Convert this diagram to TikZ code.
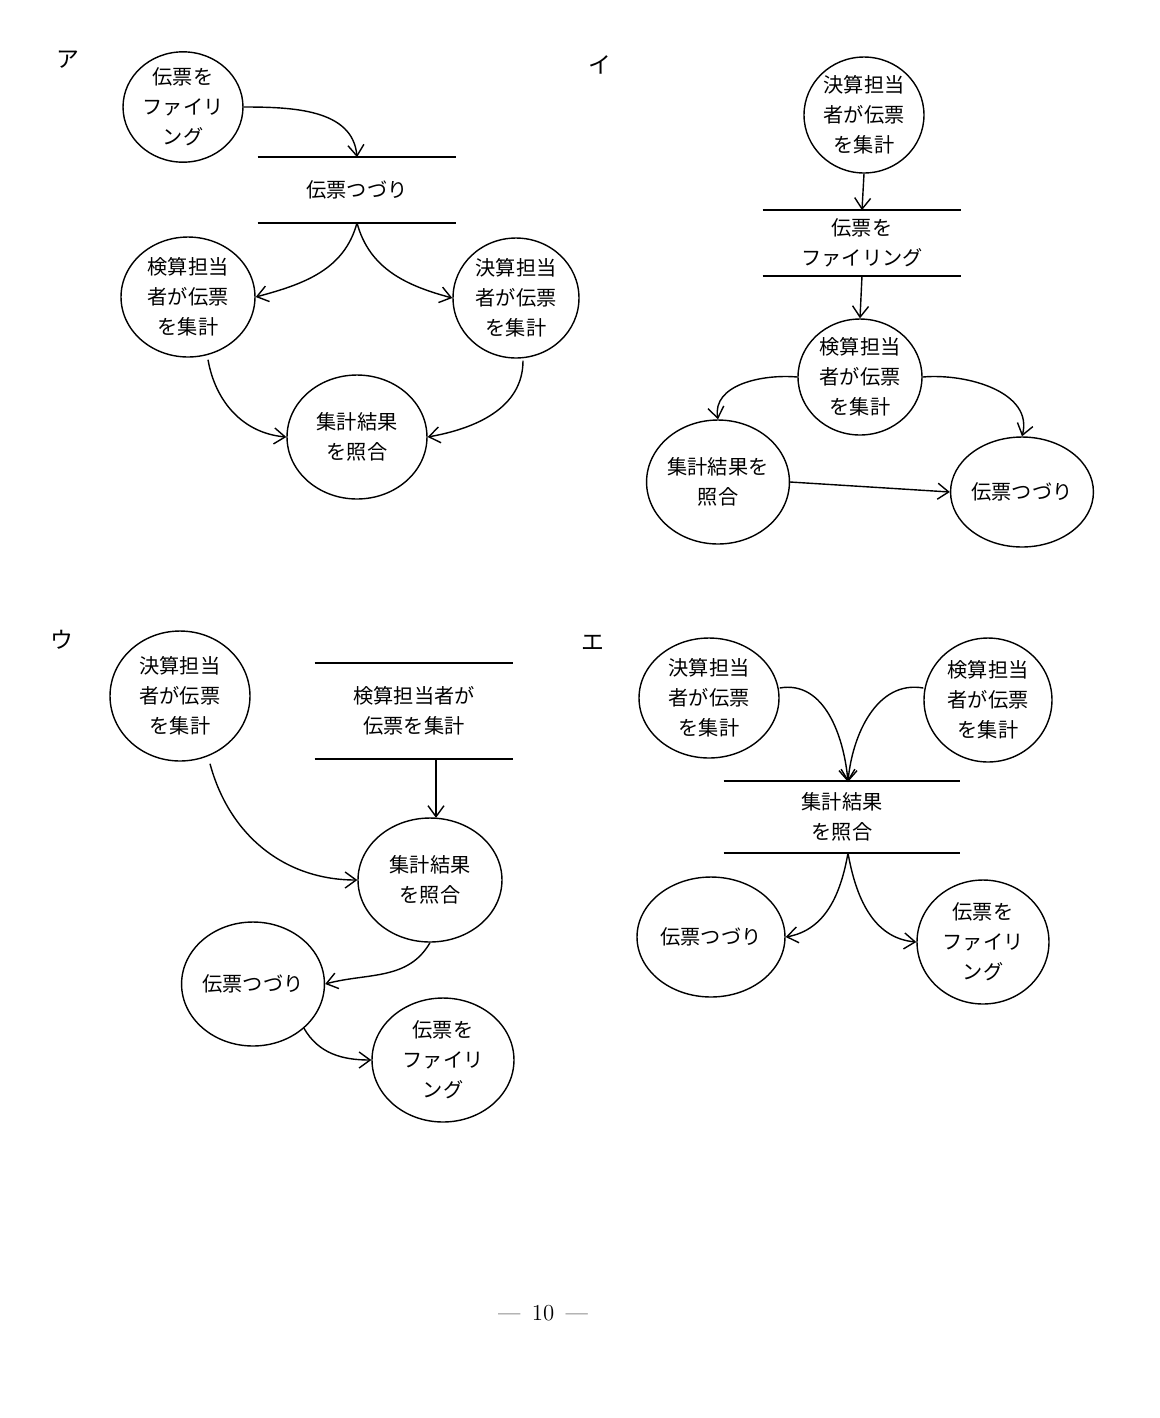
\documentclass[tikz,border=0pt]{standalone}
\usepackage{fontspec}
\newfontfamily\jpfont{Noto Sans CJK JP}
\usetikzlibrary{shapes.geometric, arrows.meta, positioning}
\tikzstyle{proc} = [ellipse, draw=black, thick, inner sep=0pt, align=center, font=\jpfont\fontsize{11.5pt}{17pt}\selectfont]
\tikzstyle{store} = [rectangle, inner sep=0pt, minimum width=3.96cm, align=center, font=\jpfont\fontsize{11.5pt}{17pt}\selectfont,
  append after command={(\tikzlastnode.north west) edge[thick] (\tikzlastnode.north east)
                        (\tikzlastnode.south west) edge[thick] (\tikzlastnode.south east)}]
\tikzstyle{arrow} = [thick,-{Straight Barb[length=2.2mm,width=3.2mm]}]
\tikzstyle{label} = [font=\jpfont\fontsize{13pt}{15pt}\selectfont]
\begin{document}
\begin{tikzpicture}[x=0.02cm, y=-0.02cm]
    \useasboundingbox (0,0) rectangle (1160,1418);
    % ア
    \node[label] (la) at (68,60) {ア};
    \node[proc, minimum width=2.4cm, minimum height=2.08cm] (afile) at (183,107) {伝票を\\ファイリ\\ング};
    \node[store, minimum height=1.3cm] (astore) at (357,190) {伝票つづり};
    \node[proc, minimum width=2.68cm, minimum height=2.4cm] (akensan) at (188,297) {検算担当\\者が伝票\\を集計};
    \node[proc, minimum width=2.52cm, minimum height=2.4cm] (akessan) at (516,298) {決算担当\\者が伝票\\を集計};
    \node[proc, minimum width=2.8cm, minimum height=2.48cm] (ashogo) at (357,437) {集計結果\\を照合};
    \draw[arrow] (afile.east) to[out=0,in=95] (astore.north);
    \draw[arrow] (astore.south) to[out=-105,in=15] (akensan.east);
    \draw[arrow] (astore.south) to[out=-75,in=165] (akessan.west);
    \draw[arrow] (akensan.south) ++(20,2) to[out=-80,in=175] (ashogo.west);
    \draw[arrow] (akessan.south) ++(7,2) to[out=-90,in=10] (ashogo.east);

    % イ
    \node[label] (li) at (600,65) {イ};
    \node[proc, minimum width=2.4cm, minimum height=2.32cm] (ikessan) at (864,115) {決算担当\\者が伝票\\を集計};
    \node[store, minimum height=1.3cm] (istore) at (862,243) {伝票を\\ファイリング};
    \node[proc, minimum width=2.48cm, minimum height=2.32cm] (ikensan) at (860,377) {検算担当\\者が伝票\\を集計};
    \node[proc, minimum width=2.8cm, minimum height=2.48cm] (ishogo) at (718,482) {集計結果を\\照合};
    \node[proc, minimum width=2.44cm, minimum height=2.2cm] (itsuzuri) at (1022,492) {伝票つづり};
    \draw[arrow] (ikessan.south) -- (istore.north);
    \draw[arrow] (istore.south) -- (ikensan.north);
    \draw[arrow] (ikensan.west) to[out=175,in=100] (ishogo.north);
    \draw[arrow] (ikensan.east) to[out=5,in=75] (itsuzuri.north);
    \draw[arrow] (ishogo.east) -- (itsuzuri.west);

    % ウ
    \node[label] (lu) at (62,640) {ウ};
    \node[proc, minimum width=2.8cm, minimum height=2.6cm] (ukessan) at (180,696) {決算担当\\者が伝票\\を集計};
    \node[store, minimum height=1.9cm] (ustore) at (414,711) {検算担当者が\\伝票を集計};
    \node[proc, minimum width=2.88cm, minimum height=2.48cm] (ushogo) at (430,880) {集計結果\\を照合};
    \node[proc, minimum width=2.52cm, minimum height=2.48cm] (utsuzuri) at (253,984) {伝票つづり};
    \node[proc, minimum width=2.84cm, minimum height=2.48cm] (ufile) at (443,1060) {伝票を\\ファイリ\\ング};
    \draw[arrow] (ukessan.south) ++(30,2) to[out=-75,in=180] (ushogo.west);
    \draw[arrow] (ustore.south) ++(22,0) -- ++(0,59);
    \draw[arrow] (ushogo.south) to[out=-120,in=15] (utsuzuri.east);
    \draw[arrow] (utsuzuri.south east) to[out=-60,in=180] (ufile.west);

    % エ
    \node[label] (le) at (593,643) {エ};
    \node[proc, minimum width=2.8cm, minimum height=2.4cm] (ekessan) at (709,698) {決算担当\\者が伝票\\を集計};
    \node[proc, minimum width=2.56cm, minimum height=2.48cm] (ekensan) at (988,700) {検算担当\\者が伝票\\を集計};
    \node[store, minimum width=4.72cm, minimum height=1.42cm] (estore) at (842,817) {集計結果\\を照合};
    \node[proc, minimum width=2.96cm, minimum height=2.4cm] (etsuzuri) at (711,937) {伝票つづり};
    \node[proc, minimum width=2.64cm, minimum height=2.48cm] (efile) at (983,942) {伝票を\\ファイリ\\ング};
    \coordinate (etop) at (848,782);
    \coordinate (ebot) at (848,853);
    \draw[arrow] (ekessan.east) ++(0,-10) to[out=10,in=95] (etop);
    \draw[arrow] (ekensan.west) ++(0,-12) to[out=170,in=85] (etop);
    \draw[arrow] (ebot) to[out=-100,in=10] (etsuzuri.east);
    \draw[arrow] (ebot) to[out=-80,in=175] (efile.west);

    % page number
    \node[font=\fontsize{13pt}{15pt}\selectfont] (page) at (543,1313) {---\enspace 10\enspace ---};
\end{tikzpicture}
\end{document}
